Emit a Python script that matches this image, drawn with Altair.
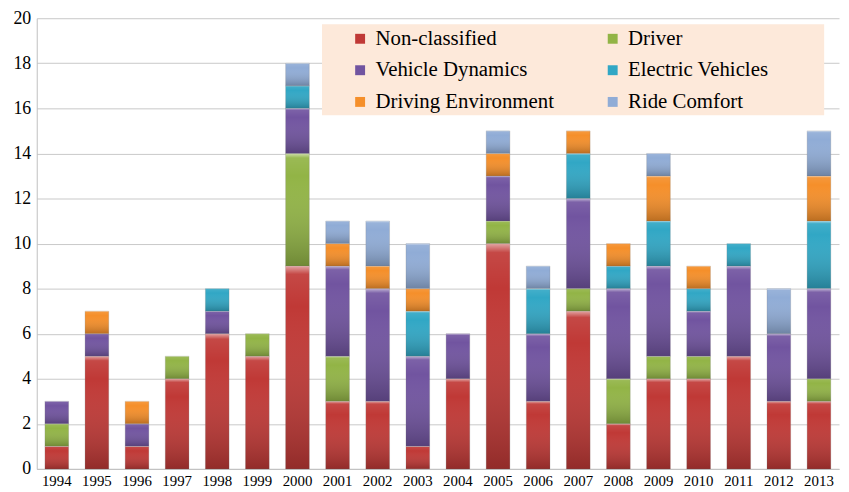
import altair as alt
import pandas as pd

years = [str(y) for y in range(1994, 2014)]
categories = ["Non-classified", "Driver", "Vehicle Dynamics",
              "Electric Vehicles", "Driving Environment", "Ride Comfort"]
colors = ["#c03936", "#92b446", "#7154a0", "#31a7c5", "#f58f2a", "#90acd6"]
# legend fills column by column: reorder so rows read as in the reference
legend_order = [0, 2, 4, 1, 3, 5]

non_classified = [1, 5, 1, 4, 6, 5, 9, 3, 3, 1, 4, 10, 3, 7, 2, 4, 4, 5, 3, 3]
driver = [1, 0, 0, 1, 0, 1, 5, 2, 0, 0, 0, 1, 0, 1, 2, 1, 1, 0, 0, 1]
vehicle_dynamics = [1, 1, 1, 0, 1, 0, 2, 4, 5, 4, 2, 2, 3, 4, 4, 4, 2, 4, 3, 4]
electric_vehicles = [0, 0, 0, 0, 1, 0, 1, 0, 0, 2, 0, 0, 2, 2, 1, 2, 1, 1, 0, 3]
driving_environment = [0, 1, 1, 0, 0, 0, 0, 1, 1, 1, 0, 1, 0, 1, 1, 2, 1, 0, 0, 2]
ride_comfort = [0, 0, 0, 0, 0, 0, 1, 1, 2, 2, 0, 1, 1, 0, 0, 1, 0, 0, 2, 2]

series = [non_classified, driver, vehicle_dynamics,
          electric_vehicles, driving_environment, ride_comfort]

rows = []
for ci, (cat, vals) in enumerate(zip(categories, series)):
    for y, v in zip(years, vals):
        if v > 0:
            rows.append({"year": y, "category": cat, "value": v, "order": ci})
df = pd.DataFrame(rows)

FONT = "Liberation Serif"
leg_domain = [categories[i] for i in legend_order]
leg_range = [colors[i] for i in legend_order]

base = alt.Chart(df).transform_stack(
    stack="value", groupby=["year"], as_=["y0", "y1"],
    sort=[alt.SortField("order", order="ascending")]
)

x_enc = alt.X("year:N", sort=years, title=None,
              scale=alt.Scale(paddingInner=0.41, paddingOuter=0.205))
y_enc = alt.Y("y1:Q", title=None,
              scale=alt.Scale(domain=[0, 20], nice=False),
              axis=alt.Axis(values=list(range(0, 21, 2))))

bars = base.mark_bar(stroke="#7a7a7a", strokeWidth=0.4, strokeOpacity=0.6).encode(
    x=x_enc,
    y=y_enc,
    y2="y0:Q",
    color=alt.Color("category:N", sort=leg_domain,
                    scale=alt.Scale(domain=leg_domain, range=leg_range),
                    legend=alt.Legend(title=None, orient="none", legendX=316,
                                      legendY=10, columns=2, columnPadding=48,
                                      rowPadding=10, symbolType="square",
                                      symbolSize=100, symbolStrokeWidth=0,
                                      labelOffset=5, padding=0, labelLimit=400)),
)

shade = alt.Gradient(
    gradient="linear", x1=0, y1=0, x2=0, y2=1,
    stops=[alt.GradientStop(color="rgba(255,255,255,0.55)", offset=0),
           alt.GradientStop(color="rgba(255,255,255,0.08)", offset=0.04),
           alt.GradientStop(color="rgba(255,255,255,0.0)", offset=0.2),
           alt.GradientStop(color="rgba(0,0,0,0.24)", offset=1)])

overlay = base.mark_bar(fill=shade).encode(
    x=x_enc,
    y=y_enc,
    y2="y0:Q",
)

legend_bg = alt.Chart(pd.DataFrame({"a": [0]})).mark_rect(
    fill="#fde9da").encode(
    x=alt.value(288), x2=alt.value(795), y=alt.value(6), y2=alt.value(98))

chart = alt.layer(bars, overlay, legend_bg).properties(
    width=810, height=455,
    autosize=alt.AutoSizeParams(type="none"),
    padding={"left": 29, "top": 8, "right": 2, "bottom": 20},
).configure(font=FONT).configure_view(stroke=None).configure_axis(
    labelFont=FONT, labelColor="black", ticks=False, domainColor="#bfbfbf",
    gridColor="#c8c8c8", gridWidth=1,
).configure_axisX(
    labelFontSize=15, labelPadding=5, labelAngle=0, grid=False,
).configure_axisY(
    labelFontSize=18, labelPadding=6,
).configure_legend(
    labelFont=FONT, labelFontSize=21, labelColor="black",
)

chart.save("out.html", embed_options={"renderer": "svg", "actions": False})
